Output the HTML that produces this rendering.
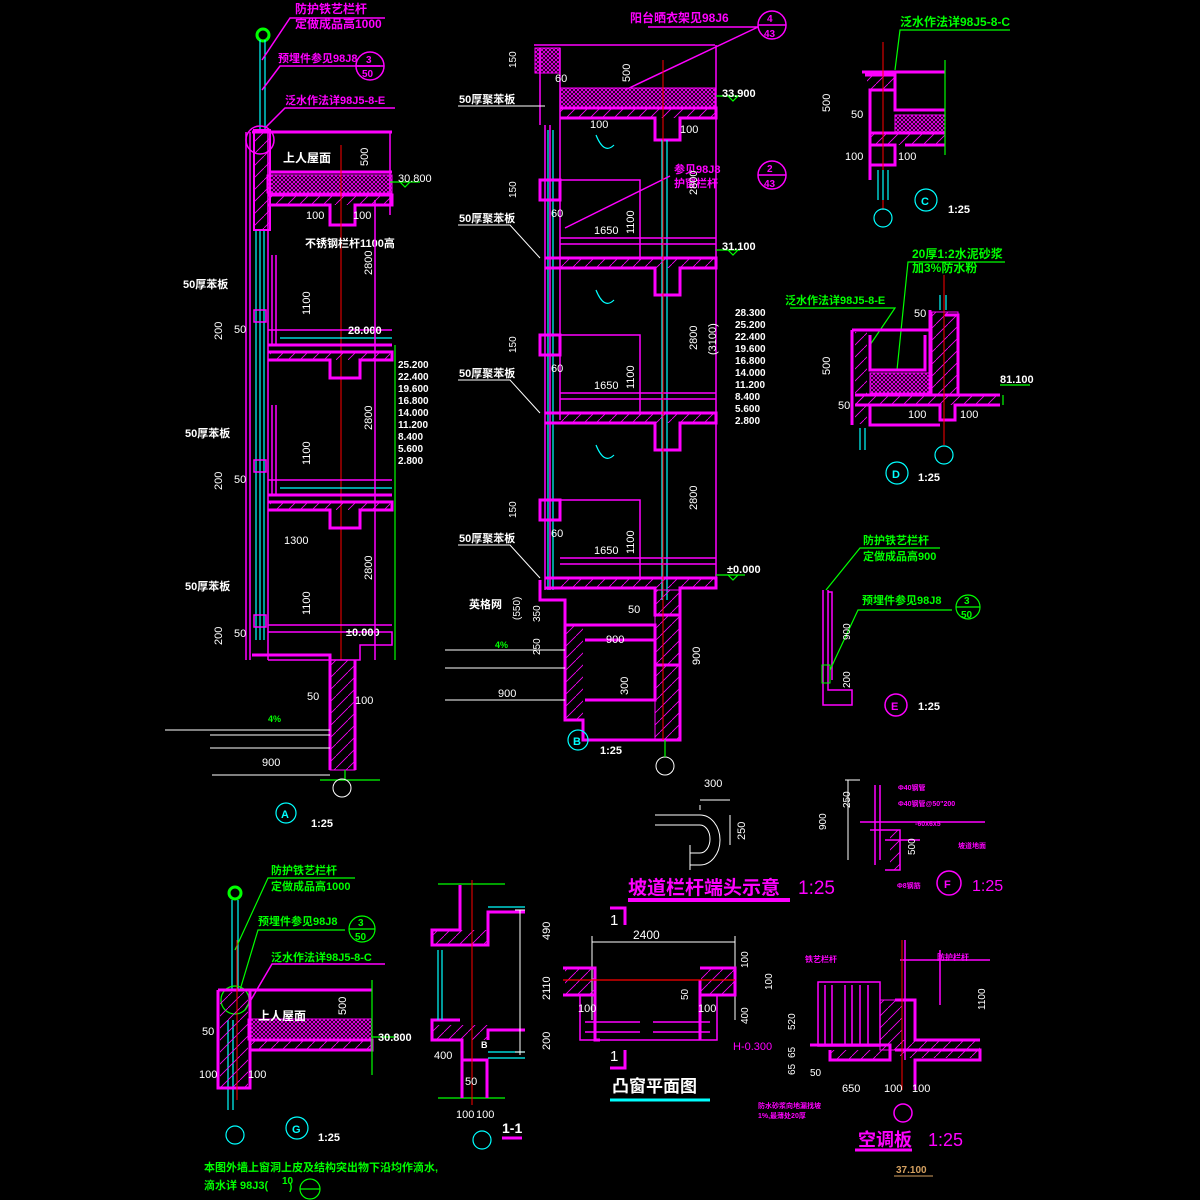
<!DOCTYPE html>
<html><head><meta charset="utf-8"><style>
html,body{margin:0;padding:0;background:#000;}
svg{display:block}
text{font-family:"Liberation Sans","Noto Sans CJK SC",sans-serif;font-weight:bold}
.m{stroke:#ff00ff;fill:none;stroke-width:1.5}
.M{stroke:#ff00ff;fill:none;stroke-width:3}
.c{stroke:#00ffff;fill:none;stroke-width:1.2}
.g{stroke:#00ff00;fill:none;stroke-width:1.2}
.w{stroke:#fff;fill:none;stroke-width:1}
.r{stroke:#ff0000;fill:none;stroke-width:1}
.tm{fill:#ff00ff}.tg{fill:#00ff00}.tw{fill:#fff;font-weight:normal}.tc{fill:#00ffff}
</style></head><body>
<svg width="1200" height="1200" viewBox="0 0 1200 1200" xmlns="http://www.w3.org/2000/svg">
<defs>
<pattern id="x" width="4" height="4" patternUnits="userSpaceOnUse"><path d="M0 0L4 4M4 0L0 4" stroke="#ff00ff" stroke-width="0.8"/></pattern>
<pattern id="h" width="12" height="12" patternUnits="userSpaceOnUse"><path d="M0 12L12 0" stroke="#ff00ff" stroke-width="0.8"/></pattern>
</defs>
<rect width="1200" height="1200" fill="#000"/>

<!-- ===== Detail A ===== -->
<g>
<circle cx="263" cy="35" r="6" stroke="#00ff00" stroke-width="3" fill="none"/>
<path class="c" d="M260 40V130M265 40V130"/>
<path class="m" d="M262 60L290 18H385M262 90L280 66H380M265 128L285 108H395"/>
<circle class="m" cx="370" cy="66" r="14"/><path class="m" d="M356 66H384"/>
<text x="295" y="13" class="tm" font-size="12">防护铁艺栏杆</text>
<text x="295" y="28" class="tm" font-size="12">定做成品高1000</text>
<text x="278" y="62" class="tm" font-size="11">预埋件参见98J8</text>
<text x="366" y="63" class="tm" font-size="10">3</text><text x="362" y="77" class="tm" font-size="10">50</text>
<text x="285" y="104" class="tm" font-size="11">泛水作法详98J5-8-E</text>
<circle class="m" cx="260" cy="140" r="14"/>
<!-- walls -->
<path class="m" d="M246 132V660M250 132V660M268 132V660"/>
<path class="c" d="M256 230V640M260 230V640M264 230V640"/>
<rect x="254" y="130" width="16" height="100" fill="url(#h)" stroke="#ff00ff" stroke-width="2"/>
<!-- roof -->
<path class="M" d="M252 132H392M270 172H392"/>
<rect x="267" y="175" width="125" height="18" fill="url(#x)" stroke="#ff00ff"/>
<path class="M" d="M268 195H392V205H355V225H330V205H268"/>
<rect x="270" y="195" width="120" height="10" fill="url(#h)"/>
<path class="m" d="M390 132V215"/>
<text x="283" y="162" fill="#fff" font-size="12">上人屋面</text>
<text x="306" y="219" class="tw" font-size="11">100</text><text x="353" y="219" class="tw" font-size="11">100</text>
<path class="g" d="M390 182H420M400 182l5 5l5-5"/>
<text x="398" y="182" class="tw" font-size="11">30.800</text>
<path class="r" d="M341 145V660"/>
<!-- floors -->
<g id="fl">
<path class="M" d="M268 345H392M268 352H392V360H360V378H330V360H268"/>
<rect x="270" y="352" width="120" height="8" fill="url(#h)"/>
<rect x="254" y="310" width="12" height="12" class="m"/>
<path class="m" d="M272 255V345M276 255V345M268 330H392"/>
<path class="c" d="M280 338H392"/>
</g>
<use href="#fl" transform="translate(0,150)"/>
<path class="m" d="M268 625H392M268 632H392V645H360V660H268"/>
<rect x="254" y="615" width="12" height="12" class="m"/>
<path class="M" d="M252 655H330V770M355 660V770"/>
<rect x="330" y="660" width="25" height="110" fill="url(#h)" stroke="#ff00ff"/>
<path class="w" d="M165 730H330M210 735H330M210 748H330"/>
<path class="g" d="M345 770V780M320 780H380"/>
<circle class="w" cx="342" cy="788" r="9"/>
<text x="307" y="700" class="tw" font-size="11">50</text><text x="355" y="704" class="tw" font-size="11">100</text>
<text x="262" y="766" class="tw" font-size="11">900</text><path class="w" d="M212 775H330"/>
<text x="268" y="722" class="tg" font-size="9">4%</text>
<circle class="c" cx="286" cy="813" r="10"/><text x="281" y="818" class="tc" font-size="11">A</text>
<text x="311" y="827" fill="#fff" font-size="11">1:25</text>
<text x="305" y="247" fill="#fff" font-size="11">不锈钢栏杆1100高</text>
<text x="183" y="288" fill="#fff" font-size="11">50厚苯板</text>
<text x="185" y="437" fill="#fff" font-size="11">50厚苯板</text>
<text x="185" y="590" fill="#fff" font-size="11">50厚苯板</text>
<text x="234" y="333" class="tw" font-size="11">50</text><text x="234" y="483" class="tw" font-size="11">50</text><text x="234" y="637" class="tw" font-size="11">50</text>
<text class="tw" font-size="11" transform="translate(222,340)rotate(-90)">200</text>
<text class="tw" font-size="11" transform="translate(222,490)rotate(-90)">200</text>
<text class="tw" font-size="11" transform="translate(222,645)rotate(-90)">200</text>
<text class="tw" font-size="11" transform="translate(310,315)rotate(-90)">1100</text>
<text class="tw" font-size="11" transform="translate(310,465)rotate(-90)">1100</text>
<text class="tw" font-size="11" transform="translate(310,615)rotate(-90)">1100</text>
<text class="tw" font-size="11" transform="translate(372,275)rotate(-90)">2800</text>
<text class="tw" font-size="11" transform="translate(372,430)rotate(-90)">2800</text>
<text class="tw" font-size="11" transform="translate(372,580)rotate(-90)">2800</text>
<text x="160" y="166" class="tw" font-size="11" transform="translate(208,0)rotate(-90 160 166)">500</text>
<text x="348" y="334" fill="#fff" font-size="11">28.000</text>
<text x="346" y="636" fill="#fff" font-size="11">±0.000</text>
<text x="284" y="544" class="tw" font-size="11">1300</text>
<path class="m" d="M375 200V660"/><path class="g" d="M395 345V660"/>
<g fill="#fff" font-size="10"><text x="398" y="368">25.200</text><text x="398" y="380">22.400</text><text x="398" y="392">19.600</text><text x="398" y="404">16.800</text><text x="398" y="416">14.000</text><text x="398" y="428">11.200</text><text x="398" y="440">8.400</text><text x="398" y="452">5.600</text><text x="398" y="464">2.800</text></g>
</g>

<!-- ===== Detail B ===== -->
<g>
<text x="630" y="22" class="tm" font-size="12">阳台晒衣架见98J6</text>
<circle class="m" cx="772" cy="25" r="14"/><path class="m" d="M758 25H786M648 27H758L625 90"/>
<text x="767" y="22" class="tm" font-size="10">4</text><text x="764" y="37" class="tm" font-size="10">43</text>
<path class="m" d="M534 45H715M540 48V125M560 48V420M716 45V580"/>
<rect x="535" y="48" width="25" height="25" fill="url(#x)" stroke="#ff00ff"/>
<rect x="560" y="88" width="155" height="20" fill="url(#x)" stroke="#ff00ff"/>
<path class="M" d="M560 108H716V118H680V140H655V118H560"/>
<rect x="560" y="108" width="155" height="10" fill="url(#h)"/>
<path class="m" d="M545 125V590M550 125V590" />
<path class="c" d="M548 130V590M553 130V590M662 140V600M667 140V600"/>
<path class="g" d="M716 96H740M728 96l5 5l5-5"/>
<text x="722" y="97" fill="#fff" font-size="11">33.900</text>
<text x="590" y="128" class="tw" font-size="11">100</text><text x="680" y="133" class="tw" font-size="11">100</text>
<path class="c" d="M596 135q8 20 18 10" stroke-width="2"/>
<g id="bf">
<rect x="540" y="180" width="20" height="20" class="M" fill="url(#h)"/>
<path class="m" d="M560 180H640V260M560 238H716M560 244H716"/>
<path class="M" d="M545 258H716V268H680V295H655V268H545"/>
<rect x="560" y="258" width="155" height="10" fill="url(#h)"/>
<text x="594" y="234" class="tw" font-size="11">1650</text>
<text class="tw" font-size="11" transform="translate(634,234)rotate(-90)">1100</text>
<text x="551" y="217" class="tw" font-size="11">60</text>
<text class="tw" font-size="10" transform="translate(516,198)rotate(-90)">150</text>
<text x="459" y="222" fill="#fff" font-size="11">50厚聚苯板</text>
<path class="w" d="M458 225H510L540 258"/>
</g>
<use href="#bf" transform="translate(0,155)"/>
<use href="#bf" transform="translate(0,320)"/>
<path class="c" d="M596 290q8 20 18 10M596 445q8 20 18 10" stroke-width="2"/>
<text x="555" y="82" class="tw" font-size="11">60</text>
<text class="tw" font-size="10" transform="translate(516,68)rotate(-90)">150</text>
<text class="tw" font-size="11" transform="translate(630,82)rotate(-90)">500</text>
<text x="459" y="103" fill="#fff" font-size="11">50厚聚苯板</text>
<path class="w" d="M458 106H545"/>
<text x="674" y="173" class="tm" font-size="11">参见98J8</text><text x="674" y="187" class="tm" font-size="11">护窗栏杆</text>
<circle class="m" cx="772" cy="175" r="14"/><path class="m" d="M758 175H786M670 176L565 228"/>
<text x="767" y="172" class="tm" font-size="10">2</text><text x="764" y="187" class="tm" font-size="10">43</text>
<path class="g" d="M716 250H740M728 250l5 5l5-5"/>
<text x="722" y="250" fill="#fff" font-size="11">31.100</text>
<text class="tw" font-size="11" transform="translate(697,195)rotate(-90)">2800</text>
<text class="tw" font-size="11" transform="translate(697,350)rotate(-90)">2800</text>
<text class="tw" font-size="11" transform="translate(697,510)rotate(-90)">2800</text>
<text class="tw" font-size="11" transform="translate(716,355)rotate(-90)">(3100)</text>
<g fill="#fff" font-size="10"><text x="735" y="316">28.300</text><text x="735" y="328">25.200</text><text x="735" y="340">22.400</text><text x="735" y="352">19.600</text><text x="735" y="364">16.800</text><text x="735" y="376">14.000</text><text x="735" y="388">11.200</text><text x="735" y="400">8.400</text><text x="735" y="412">5.600</text><text x="735" y="424">2.800</text></g>
<path class="g" d="M716 575H745M728 575l5 5l5-5"/>
<text x="727" y="573" fill="#fff" font-size="11">±0.000</text>
<!-- basement -->
<path class="M" d="M540 580V600H565V720H583V740H680V590M565 625H655V665H680M585 640H655M585 700H655V665"/>
<rect x="565" y="625" width="18" height="95" fill="url(#h)"/>
<rect x="655" y="590" width="25" height="150" fill="url(#h)" stroke="#ff00ff"/>
<path class="w" d="M445 650H565M445 668H565M445 700H565"/>
<text x="469" y="608" fill="#fff" font-size="11">英格网</text>
<text x="495" y="648" class="tg" font-size="9">4%</text>
<text x="498" y="697" class="tw" font-size="11">900</text>
<text x="606" y="643" class="tw" font-size="11">900</text>
<text x="628" y="613" class="tw" font-size="11">50</text>
<text class="tw" font-size="10" transform="translate(540,622)rotate(-90)">350</text>
<text class="tw" font-size="10" transform="translate(520,620)rotate(-90)">(550)</text>
<text class="tw" font-size="10" transform="translate(540,655)rotate(-90)">250</text>
<text class="tw" font-size="11" transform="translate(628,695)rotate(-90)">300</text>
<text class="tw" font-size="11" transform="translate(700,665)rotate(-90)">900</text>
<path class="r" d="M663 60V740"/>
<circle class="w" cx="665" cy="766" r="9"/><path class="g" d="M665 740V757"/>
<circle class="c" cx="578" cy="740" r="10"/><text x="573" y="745" class="tc" font-size="11">B</text>
<text x="600" y="754" fill="#fff" font-size="11">1:25</text>
</g>

<!-- ===== Detail C ===== -->
<g>
<text x="900" y="26" class="tg" font-size="12">泛水作法详98J5-8-C</text>
<path class="g" d="M1010 30H900L895 70"/>
<path class="M" d="M862 72H945M865 75H895V90H870V180M895 90V110H945"/>
<rect x="867" y="75" width="28" height="15" fill="url(#h)"/>
<rect x="895" y="115" width="50" height="18" fill="url(#x)" stroke="#ff00ff"/>
<path class="M" d="M870 133H945M870 145H895V165H870M905 145H945"/>
<rect x="870" y="133" width="75" height="12" fill="url(#h)"/>
<path class="r" d="M883 42V210"/><path class="g" d="M945 60V155"/>
<path class="c" d="M878 170V200M883 170V200M888 170V200"/>
<text class="tw" font-size="11" transform="translate(830,112)rotate(-90)">500</text>
<text x="851" y="118" class="tw" font-size="11">50</text>
<text x="845" y="160" class="tw" font-size="11">100</text><text x="898" y="160" class="tw" font-size="11">100</text>
<circle class="c" cx="883" cy="218" r="9"/>
<circle class="c" cx="926" cy="200" r="11"/><text x="921" y="205" class="tc" font-size="11">C</text>
<text x="948" y="213" fill="#fff" font-size="11">1:25</text>
</g>

<!-- ===== Detail D ===== -->
<g>
<text x="912" y="258" class="tg" font-size="12">20厚1:2水泥砂浆</text>
<text x="912" y="272" class="tg" font-size="12">加3%防水粉</text>
<path class="g" d="M1005 262H908L897 370"/>
<text x="785" y="304" class="tg" font-size="11">泛水作法详98J5-8-E</text>
<path class="g" d="M790 308H895L870 345"/>
<path class="M" d="M852 330H930M852 330V425M930 310V395H1000M945 315H958V395M855 395H1000"/>
<rect x="855" y="332" width="12" height="92" fill="url(#h)"/>
<rect x="870" y="373" width="60" height="20" fill="url(#x)" stroke="#ff00ff"/>
<rect x="932" y="312" width="26" height="82" fill="url(#h)" stroke="#ff00ff"/>
<path class="M" d="M870 335V370H925V335"/>
<path class="M" d="M855 405H940V420H955V405H1000M870 405V425H940"/>
<rect x="855" y="395" width="145" height="10" fill="url(#h)"/>
<path class="r" d="M944 275V445"/>
<path class="g" d="M1000 385H1030M1003 405V395"/>
<text x="1000" y="383" fill="#fff" font-size="11">81.100</text>
<text class="tw" font-size="11" transform="translate(830,375)rotate(-90)">500</text>
<text x="838" y="409" class="tw" font-size="11">50</text><text x="914" y="317" class="tw" font-size="11">50</text>
<text x="908" y="418" class="tw" font-size="11">100</text><text x="960" y="418" class="tw" font-size="11">100</text>
<path class="c" d="M860 428V450M865 428V450M940 295V310M946 295V310"/>
<circle class="c" cx="944" cy="455" r="9"/>
<circle class="c" cx="897" cy="473" r="11"/><text x="892" y="478" class="tc" font-size="11">D</text>
<text x="918" y="481" fill="#fff" font-size="11">1:25</text>
</g>

<!-- ===== Detail E ===== -->
<g>
<text x="863" y="544" class="tg" font-size="11">防护铁艺栏杆</text>
<text x="863" y="560" class="tg" font-size="11">定做成品高900</text>
<path class="g" d="M940 548H860L826 590"/>
<path class="m" d="M823 590V705H852V690H828V590M828 592H832V680"/>
<rect x="822" y="665" width="8" height="18" stroke="#00ff00" fill="none"/>
<text x="862" y="604" class="tg" font-size="11">预埋件参见98J8</text>
<circle class="g" cx="968" cy="607" r="12"/><path class="g" d="M956 607H980M952 610H858L830 670"/>
<text x="964" y="604" class="tg" font-size="10">3</text><text x="961" y="618" class="tg" font-size="10">50</text>
<text class="tw" font-size="10" transform="translate(850,640)rotate(-90)">900</text>
<text class="tw" font-size="10" transform="translate(850,688)rotate(-90)">200</text>
<circle class="m" cx="896" cy="705" r="11"/><text x="891" y="710" class="tm" font-size="11">E</text>
<text x="918" y="710" fill="#fff" font-size="11">1:25</text>
</g>

<!-- ===== Ramp rail ===== -->
<g>
<path class="w" d="M700 800H730M700 805V810"/>
<text x="704" y="787" class="tw" font-size="11">300</text>
<path class="w" d="M655 815H700a20 25 0 0 1 0 50H690M655 825H700a10 14 0 0 1 0 28H690V870"/>
<path class="w" d="M690 845V870M730 815V845"/>
<text class="tw" font-size="11" transform="translate(745,840)rotate(-90)">250</text>
<text x="628" y="894" class="tm" font-size="19">坡道栏杆端头示意</text>
<text x="798" y="894" class="tm" font-size="19" style="font-weight:normal">1:25</text>
<path d="M628 900H790" stroke="#ff00ff" stroke-width="4"/>
</g>

<!-- ===== Detail F ===== -->
<g>
<path class="m" d="M875 785V865M880 785V860M870 830H900V870H885M860 822H985M885 840H920"/>
<rect x="890" y="830" width="10" height="40" fill="url(#h)"/>
<path class="w" d="M848 780V860M845 780H860"/>
<text class="tw" font-size="10" transform="translate(826,830)rotate(-90)">900</text>
<text class="tw" font-size="10" transform="translate(850,808)rotate(-90)">250</text>
<text class="tw" font-size="10" transform="translate(915,855)rotate(-90)">500</text>
<text x="898" y="790" class="tm" font-size="7">Φ40钢管</text>
<text x="898" y="806" class="tm" font-size="7">Φ40钢管@50"200</text>
<text x="915" y="826" class="tm" font-size="7">-60x6x5</text>
<text x="958" y="848" class="tm" font-size="7">坡道地面</text>
<text x="897" y="888" class="tm" font-size="7">Φ8钢筋</text>
<circle class="m" cx="949" cy="883" r="12"/><text x="944" y="888" class="tm" font-size="11">F</text>
<text x="972" y="891" class="tm" font-size="16" style="font-weight:normal">1:25</text>
</g>

<!-- ===== Detail G ===== -->
<g>
<circle cx="235" cy="893" r="6" stroke="#00ff00" stroke-width="3" fill="none"/>
<path class="c" d="M232 900V990M238 900V990M228 1020V1110M233 1020V1110"/>
<text x="271" y="874" class="tg" font-size="11">防护铁艺栏杆</text>
<text x="271" y="890" class="tg" font-size="11">定做成品高1000</text>
<path class="g" d="M355 878H268L235 950"/>
<text x="258" y="925" class="tg" font-size="11">预埋件参见98J8</text>
<circle class="g" cx="362" cy="929" r="13"/><path class="g" d="M349 929H375M345 930H258L240 990"/>
<text x="358" y="926" class="tg" font-size="10">3</text><text x="355" y="940" class="tg" font-size="10">50</text>
<text x="271" y="961" class="tg" font-size="11">泛水作法详98J5-8-C</text>
<path class="m" d="M385 964H272L245 1010"/>
<circle class="g" cx="235" cy="1000" r="14"/>
<path class="M" d="M218 990H372M218 990V1088H250V1030M250 990V1030"/>
<rect x="220" y="992" width="28" height="96" fill="url(#h)"/>
<rect x="248" y="1019" width="124" height="21" fill="url(#x)" stroke="#ff00ff"/>
<path class="M" d="M250 1040H372V1050H250"/>
<rect x="250" y="1040" width="122" height="10" fill="url(#h)"/>
<text x="258" y="1020" fill="#fff" font-size="12">上人屋面</text>
<path class="g" d="M372 980V1075M372 1037H395"/>
<text x="378" y="1041" fill="#fff" font-size="11">30.800</text>
<text class="tw" font-size="11" transform="translate(346,1015)rotate(-90)">500</text>
<text x="202" y="1035" class="tw" font-size="11">50</text>
<text x="199" y="1078" class="tw" font-size="11">100</text><text x="248" y="1078" class="tw" font-size="11">100</text>
<path class="r" d="M237 940V1100"/>
<circle class="c" cx="235" cy="1135" r="9"/>
<circle class="c" cx="297" cy="1128" r="11"/><text x="292" y="1133" class="tc" font-size="11">G</text>
<text x="318" y="1141" fill="#fff" font-size="11">1:25</text>
<text x="204" y="1171" class="tg" font-size="11">本图外墙上窗洞上皮及结构突出物下沿均作滴水,</text>
<text x="204" y="1189" class="tg" font-size="11">滴水详 98J3(</text><text x="282" y="1184" class="tg" font-size="10">10</text><text x="289" y="1190" class="tg" font-size="10">)</text>
<circle class="g" cx="310" cy="1189" r="10"/><path class="g" d="M300 1189H320"/>
</g>

<!-- ===== 1-1 ===== -->
<g>
<path class="g" d="M438 884H505M438 1098H505"/>
<path class="M" d="M460 885V930H432V945H488V912H525M460 1020H432V1040H462V1098M488 1040V1030H525M462 1060H487V1098"/>
<rect x="433" y="930" width="55" height="15" fill="url(#h)"/>
<rect x="433" y="1025" width="55" height="15" fill="url(#h)"/>
<path class="c" d="M438 950V1020M442 950V1020M488 907H525M488 1052H525M488 1058H525"/>
<path class="r" d="M472 880V1105"/>
<path class="w" d="M520 910V1055M515 910H525M515 1052H525"/>
<text class="tw" font-size="11" transform="translate(550,940)rotate(-90)">490</text>
<text class="tw" font-size="11" transform="translate(550,1000)rotate(-90)">2110</text>
<text class="tw" font-size="11" transform="translate(550,1050)rotate(-90)">200</text>
<text x="434" y="1059" class="tw" font-size="11">400</text>
<text x="465" y="1085" class="tw" font-size="11">50</text>
<text x="456" y="1118" class="tw" font-size="11">100</text><text x="476" y="1118" class="tw" font-size="11">100</text>
<text x="481" y="1048" fill="#fff" font-size="9">B</text>
<circle class="c" cx="482" cy="1140" r="9"/>
<text x="502" y="1133" fill="#fff" font-size="14">1-1</text>
<path d="M502 1138H522" stroke="#ff00ff" stroke-width="3"/>
</g>

<!-- ===== Bay window plan ===== -->
<g>
<text x="610" y="925" fill="#fff" font-size="15" style="font-weight:normal">1</text>
<path class="M" d="M610 908H625V925"/>
<text x="610" y="1061" fill="#fff" font-size="15" style="font-weight:normal">1</text>
<path class="M" d="M610 1068H625V1050"/>
<path class="w" d="M592 942H735M592 936V1020M735 936V1020"/>
<text x="633" y="939" class="tw" font-size="12">2400</text>
<path class="M" d="M563 968H595V995H563M700 968H735V995H700M595 980V1040H600M700 980V1040"/>
<rect x="565" y="968" width="30" height="27" fill="url(#h)"/>
<rect x="701" y="968" width="33" height="27" fill="url(#h)"/>
<path d="M563 980H735" stroke="#ff0000" stroke-width="1.2"/>
<path class="m" d="M580 995V1040H717V995M585 1022H640M653 1022H710M585 1032H640M653 1032H710"/>
<text x="578" y="1012" class="tw" font-size="11">100</text><text x="698" y="1012" class="tw" font-size="11">100</text>
<text class="tw" font-size="10" transform="translate(688,1000)rotate(-90)">50</text>
<text class="tw" font-size="10" transform="translate(748,968)rotate(-90)">100</text>
<text class="tw" font-size="10" transform="translate(772,990)rotate(-90)">100</text>
<text class="tw" font-size="10" transform="translate(748,1024)rotate(-90)">400</text>
<text x="733" y="1050" class="tm" font-size="11" style="font-weight:normal">H-0.300</text>
<text x="612" y="1092" fill="#fff" font-size="17">凸窗平面图</text>
<path d="M610 1100H710" stroke="#00ffff" stroke-width="3"/>
</g>

<!-- ===== AC board ===== -->
<g>
<path class="m" d="M905 940V1060M900 960H990M940 950V1005"/>
<rect x="818" y="982" width="62" height="64" class="m"/>
<path class="m" d="M825 985V1045M832 985V1045M845 985V1045M852 985V1045M860 985V1045M868 985V1045"/>
<path class="M" d="M810 1045H890V1060H830V1050M895 1000H915V1040H980M895 1050H980V1060H915V1090"/>
<rect x="880" y="1000" width="22" height="50" fill="url(#h)" stroke="#ff00ff"/>
<rect x="900" y="1040" width="80" height="18" fill="url(#h)"/>
<rect x="830" y="1050" width="55" height="10" fill="url(#h)"/>
<path class="r" d="M902 940V1090"/>
<text x="805" y="962" class="tm" font-size="8">铁艺栏杆</text>
<text x="937" y="960" class="tm" font-size="8">防护栏杆</text>
<text class="tw" font-size="10" transform="translate(795,1030)rotate(-90)">520</text>
<text class="tw" font-size="10" transform="translate(795,1058)rotate(-90)">65</text>
<text class="tw" font-size="10" transform="translate(795,1075)rotate(-90)">65</text>
<text class="tw" font-size="10" transform="translate(985,1010)rotate(-90)">1100</text>
<text x="810" y="1076" class="tw" font-size="10">50</text>
<text x="842" y="1092" class="tw" font-size="11">650</text>
<text x="884" y="1092" class="tw" font-size="11">100</text><text x="912" y="1092" class="tw" font-size="11">100</text>
<text x="758" y="1108" class="tm" font-size="7">防水砂浆向地漏找坡</text>
<text x="758" y="1118" class="tm" font-size="7">1%,最薄处20厚</text>
<circle class="m" cx="903" cy="1113" r="9"/>
<text x="858" y="1146" class="tm" font-size="18">空调板</text>
<text x="928" y="1146" class="tm" font-size="18" style="font-weight:normal">1:25</text>
<path d="M855 1150H912" stroke="#ff00ff" stroke-width="3"/>
<text x="896" y="1173" fill="#d4a060" font-size="10">37.100</text>
<path d="M894 1176H933" stroke="#d4a060"/>
</g>
</svg>
</body></html>
